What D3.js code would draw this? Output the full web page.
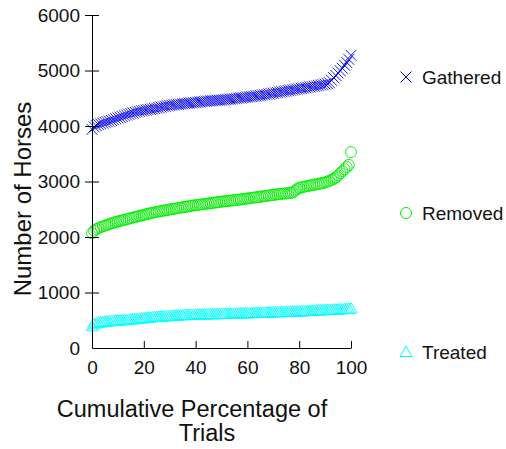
<!DOCTYPE html>
<html>
<head>
<meta charset="utf-8">
<script src="https://cdn.jsdelivr.net/npm/d3@7"></script>
<style>
  body { margin: 0; background: #fff; }
  text { font-family: "Liberation Sans", Arial, sans-serif; fill: #111; }
</style>
</head>
<body>
<svg id="chart" width="506" height="449"></svg>
<script>
// values, one per trial, sorted (cumulative %)
var gathered = [3940, 3985, 4005, 4025, 4038, 4052, 4065, 4078, 4090, 4100,
  4113, 4130, 4145, 4158, 4172, 4185, 4198, 4212, 4225, 4235,
  4245, 4255, 4265, 4273, 4280, 4287, 4295, 4300, 4307, 4315,
  4322, 4331, 4340, 4348, 4356, 4363, 4370, 4375, 4381, 4386,
  4390, 4395, 4400, 4404, 4408, 4412, 4416, 4420, 4424, 4429,
  4434, 4438, 4443, 4447, 4450, 4453, 4457, 4460, 4463, 4465,
  4468, 4472, 4476, 4480, 4484, 4488, 4492, 4497, 4502, 4507,
  4511, 4516, 4520, 4525, 4530, 4535, 4540, 4546, 4551, 4557,
  4563, 4570, 4577, 4583, 4590, 4597, 4603, 4610, 4617, 4623,
  4630, 4637, 4643, 4650, 4657, 4663, 4670, 4677, 4683, 4690,
  4697, 4703, 4710, 4717, 4723, 4730, 4738, 4746, 4755, 4766,
  4780, 4823, 4870, 4910, 4955, 4995, 5040, 5094, 5145, 5200, 5274];

var removed = [2070, 2115, 2140, 2160, 2177, 2192, 2205, 2218, 2232, 2245,
  2258, 2270, 2280, 2290, 2300, 2310, 2320, 2330, 2340, 2350,
  2360, 2370, 2380, 2390, 2400, 2410, 2419, 2428, 2436, 2444,
  2452, 2459, 2466, 2474, 2481, 2488, 2495, 2502, 2508, 2515,
  2522, 2528, 2535, 2542, 2548, 2555, 2562, 2568, 2573, 2578,
  2583, 2588, 2593, 2599, 2604, 2609, 2615, 2620, 2625, 2631,
  2636, 2641, 2645, 2650, 2655, 2659, 2664, 2669, 2673, 2678,
  2684, 2689, 2694, 2699, 2705, 2710, 2715, 2721, 2726, 2731,
  2737, 2742, 2747, 2753, 2758, 2763, 2769, 2774, 2778, 2782,
  2786, 2790, 2795, 2800, 2830, 2862, 2885, 2895, 2903, 2912,
  2920, 2928, 2935, 2942, 2950, 2958, 2966, 2975, 2985, 2998,
  3013, 3030, 3048, 3075, 3110, 3150, 3185, 3220, 3260, 3300, 3530];

var treated = [390, 425, 445, 455, 462, 467, 472, 476, 480, 483,
  486, 490, 493, 496, 500, 503, 506, 510, 513, 517,
  520, 524, 528, 532, 536, 540, 544, 548, 552, 556,
  559, 562, 565, 567, 570, 572, 575, 578, 581, 583,
  586, 588, 590, 591, 593, 594, 595, 597, 598, 600,
  601, 602, 603, 605, 606, 607, 608, 609, 610, 611,
  612, 613, 614, 615, 616, 617, 618, 619, 620, 621,
  622, 624, 625, 626, 628, 629, 630, 632, 633, 634,
  636, 637, 638, 640, 641, 642, 644, 645, 646, 648,
  649, 650, 652, 653, 655, 656, 658, 660, 662, 664,
  666, 668, 670, 672, 674, 676, 678, 680, 682, 684,
  686, 688, 690, 692, 694, 696, 698, 700, 702, 705, 710];

var seriesNames = ["Gathered", "Removed", "Treated"];
var seriesColors = ["#0000ff", "#00ee00", "#00ffff"];
var yTicks = [0, 1000, 2000, 3000, 4000, 5000, 6000];
var xTicks = [0, 20, 40, 60, 80, 100];

draw()

function draw() {
    var svg = d3.select("#chart")
    var margin = { top: 15, left: 92 };
    var width = 259;
    var height = 333;

    var g = svg.append("g")
        .attr("transform", "translate(" + margin.left + "," + margin.top + ")");

    var x = d3.scaleLinear().domain([0, 100]).range([0, width]);
    var y = d3.scaleLinear().domain([0, 6000]).range([height, 0]);

    //marker paths
    var shapes = {
        Gathered: "M-5.5,-5.5L5.5,5.5M-5.5,5.5L5.5,-5.5",
        Removed: d3.symbol().type(d3.symbolCircle).size(Math.PI * 5.5 * 5.5)(),
        Treated: "M0,-6L6,4.5L-6,4.5Z"
    };

    var allSeries = [gathered, removed, treated];

    //points, cumulative percentage of trials on x
    allSeries.forEach(function(vals, s) {
        var n = vals.length;
        g.append("g").selectAll("path")
            .data(vals)
            .enter()
            .append("path")
            .attr("d", shapes[seriesNames[s]])
            .attr("transform", function(d, i) {
                return "translate(" + x(i / (n - 1) * 100) + "," + y(d) + ")";
            })
            .attr("fill", "none")
            .attr("stroke", seriesColors[s])
            .attr("stroke-width", 0.9);
    });

    //y axis, ticks cross the line
    var yAxis = g.append("g")
        .call(d3.axisLeft(y).tickValues(yTicks).tickFormat(d3.format("d"))
            .tickSizeInner(7).tickSizeOuter(0).tickPadding(5));
    yAxis.selectAll(".tick line").attr("x1", 7);
    yAxis.selectAll(".tick").filter(function(d) { return d === 0; }).select("line").remove();
    yAxis.selectAll("text").style("font-size", "19px");

    //x axis, ticks point inward
    var xAxis = g.append("g")
        .attr("transform", "translate(0," + height + ")")
        .call(d3.axisBottom(x).tickValues(xTicks).tickSizeInner(-7).tickSizeOuter(0).tickPadding(13));
    xAxis.selectAll("text").style("font-size", "19px");
    g.selectAll(".domain, .tick line").attr("stroke", "#000");

    //axis titles
    svg.append("text")
        .attr("transform", "translate(31,199) rotate(-90)")
        .attr("text-anchor", "middle")
        .style("font-size", "24px")
        .text("Number of Horses");
    svg.append("text")
        .attr("x", 192).attr("y", 417)
        .attr("text-anchor", "middle")
        .style("font-size", "23.5px")
        .text("Cumulative Percentage of");
    svg.append("text")
        .attr("x", 207).attr("y", 441)
        .attr("text-anchor", "middle")
        .style("font-size", "23.5px")
        .text("Trials");

    //legend
    var legendY = [77, 213, 352];
    var legend = svg.append("g");
    seriesNames.forEach(function(name, s) {
        legend.append("path")
            .attr("d", shapes[name])
            .attr("transform", "translate(406," + legendY[s] + ")")
            .attr("fill", "none")
            .attr("stroke", seriesColors[s]);
        legend.append("text")
            .attr("x", 422).attr("y", legendY[s] + 7)
            .style("font-size", "19px")
            .text(name);
    });
}
</script>
</body>
</html>
